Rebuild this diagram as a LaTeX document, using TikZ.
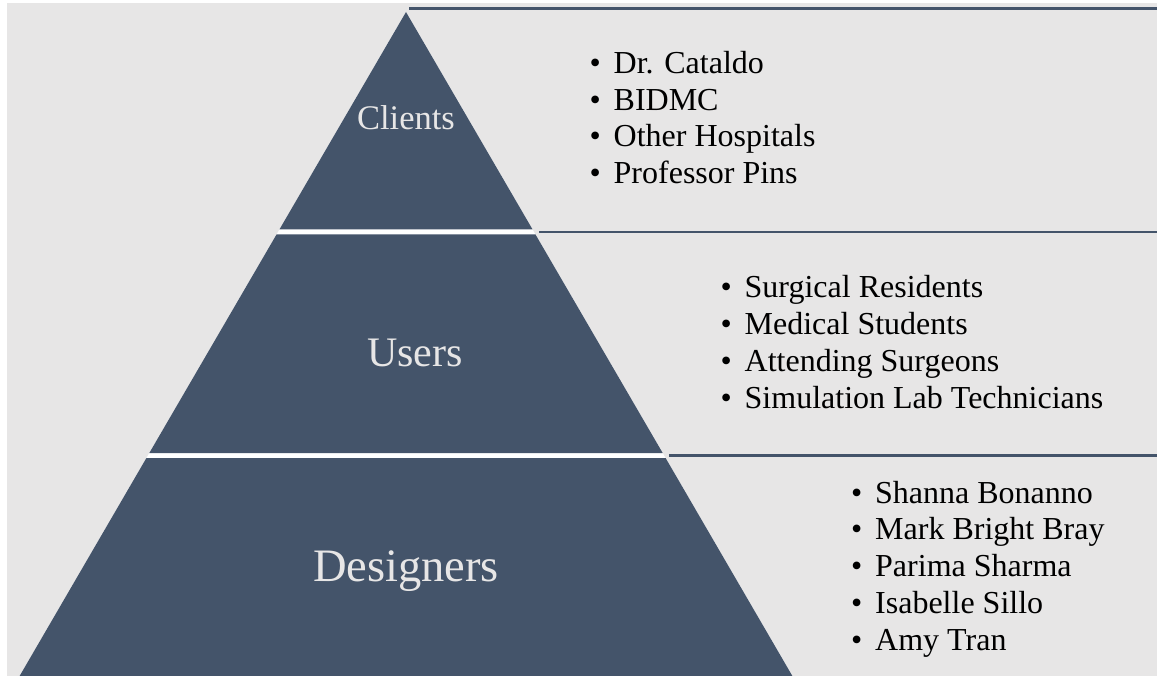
\documentclass[tikz,border=0pt]{standalone}
\usepackage{fontspec}
\setmainfont{Liberation Serif}
\usetikzlibrary{calc}
\definecolor{slate}{HTML}{44546A}
\definecolor{paper}{HTML}{E7E6E6}
\tikzset{
  tier/.style={fill=slate},
  tiertext/.style={anchor=base,inner sep=0pt,text=paper},
  rule/.style={draw=slate,line width=2.7pt},
  listitem/.style={anchor=base west,inner sep=0pt,
    font=\fontsize{32}{36}\selectfont},
}
% bullet hung to the left of the item text
\newcommand{\bul}[1]{\llap{\textbullet\hspace{13pt}}#1}

\begin{document}
\begin{tikzpicture}[x=1pt,y=-1pt]
\useasboundingbox (0,0) rectangle (1157,676);
\fill[paper] (7,3) rectangle (1157,676);

% pyramid corners, tiers split by thin white gaps
\coordinate (apex) at (406,12);
\coordinate (t1l) at (279.4,229.5);
\coordinate (t1r) at (532.6,229.5);
\coordinate (t2tl) at (276.5,234.5);
\coordinate (t2tr) at (535.5,234.5);
\coordinate (t2l) at (149.3,453);
\coordinate (t2r) at (662.7,453);
\coordinate (t3tl) at (146.4,458);
\coordinate (t3tr) at (665.6,458);
\coordinate (t3l) at (19.6,676);
\coordinate (t3r) at (792.4,676);
\coordinate (E) at (1157,0);

\fill[white] (apex) -- (t3r) -- (t3l) -- cycle;
\fill[tier] (apex) -- (t1r) -- (t1l) -- cycle;
\fill[tier] (t2tl) -- (t2tr) -- (t2r) -- (t2l) -- cycle;
\fill[tier] (t3tl) -- (t3tr) -- (t3r) -- (t3l) -- cycle;

% rules over the lists
\coordinate (r1) at (409,8.3);
\coordinate (r2) at (539,232);
\coordinate (r3) at (669,455.7);
\draw[rule] (r1) -- (r1 -| E);
\draw[rule] (r2) -- (r2 -| E);
\draw[rule] (r3) -- (r3 -| E);

\node[tiertext,font=\fontsize{34.5}{40}\selectfont] (clients) at (406,130) {Clients};
\node[tiertext,font=\fontsize{42}{48}\selectfont] (users) at (415,366.5) {Users};
\node[tiertext,font=\fontsize{46.5}{52}\selectfont] (designers) at (406,581.5) {Designers};

\foreach \who [count=\i] in {Dr. Cataldo, BIDMC, Other Hospitals, Professor Pins}
  \node[listitem] (cl-\i) at (613.5,{73.3+36.8*(\i-1)}) {\bul{\who}};
\foreach \who [count=\i] in {Surgical Residents, Medical Students,
    Attending Surgeons, Simulation Lab Technicians}
  \node[listitem] (us-\i) at (744.5,{298+36.8*(\i-1)}) {\bul{\who}};
\foreach \who [count=\i] in {Shanna Bonanno, Mark Bright Bray, Parima Sharma,
    Isabelle Sillo, Amy Tran}
  \node[listitem] (de-\i) at (875,{503+36.8*(\i-1)}) {\bul{\who}};
\end{tikzpicture}
\end{document}
